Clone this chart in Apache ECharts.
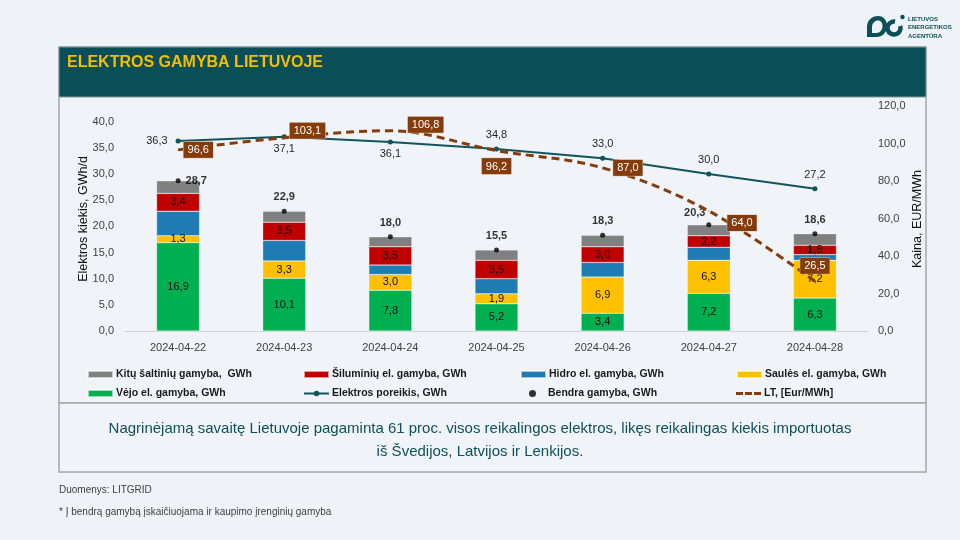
<!DOCTYPE html>
<html>
<head>
<meta charset="utf-8">
<script src="https://cdn.jsdelivr.net/npm/echarts@6/dist/echarts.min.js"></script>
<style>
html,body{margin:0;padding:0;background:#eff3f7;}
#c{width:960px;height:540px;}
</style>
</head>
<body>
<div id="c"></div>
<script>
// ---- Data ----
var categories = ['2024-04-22','2024-04-23','2024-04-24','2024-04-25','2024-04-26','2024-04-27','2024-04-28'];
var vejo      = [16.9, 10.1, 7.8, 5.2, 3.4, 7.2, 6.3];
var saules    = [1.3, 3.3, 3.0, 1.9, 6.9, 6.3, 7.2];
var hidro     = [4.7, 3.9, 1.8, 2.9, 2.8, 2.5, 1.1];
var siluminiu = [3.4, 3.5, 3.5, 3.5, 3.0, 2.2, 1.8];
var kitu      = [2.4, 2.1, 1.9, 2.0, 2.2, 2.1, 2.2];
var bendra    = [28.7, 22.9, 18.0, 15.5, 18.3, 20.3, 18.6];
var poreikis  = [36.3, 37.1, 36.1, 34.8, 33.0, 30.0, 27.2];
var kaina     = [96.6, 103.1, 106.8, 96.2, 87.0, 64.0, 26.5];
var leftTicks = [0, 5, 10, 15, 20, 25, 30, 35, 40];
var rightTicks = [0, 20, 40, 60, 80, 100, 120];
var leftAxisName = 'Elektros kiekis, GWh/d';
var rightAxisName = 'Kaina, EUR/MWh';

var names = {
  kitu: 'Kitų šaltinių gamyba,  GWh',
  sil: 'Šiluminių el. gamyba, GWh',
  hidro: 'Hidro el. gamyba, GWh',
  saules: 'Saulės el. gamyba, GWh',
  vejo: 'Vėjo el. gamyba, GWh',
  poreikis: 'Elektros poreikis, GWh',
  bendra: 'Bendra gamyba, GWh',
  lt: 'LT, [Eur/MWh]'
};

function fmt(v){ return (typeof v === 'object' ? v.value : v).toFixed(1).replace('.', ','); }

var FONT = 'Liberation Sans';
var TEAL = '#0b4f57';

// logo shapes
try {
  echarts.graphic.registerShape('logoD', echarts.graphic.extendPath(
    'M867 37 L867 27 C867 20 872 16 878 16 C884 16 887 21 887 26 C887 32 883 37 876 37 Z', {}));
  echarts.graphic.registerShape('logoDHole', echarts.graphic.extendPath(
    'M872 33 L872 27 C872 23 875 20.5 878 20.5 C881 20.5 882.5 23 882.5 26 C882.5 30 880 33 876.5 33 Z', {}));
} catch(e) {}

// label placements (style only)
var poreikisPos = [
  {position:'left', distance:8},
  {position:'bottom', distance:4},
  {position:'bottom', distance:4},
  {position:'top', distance:6},
  {position:'top', distance:6},
  {position:'top', distance:6},
  {position:'top', distance:6}
];
var bendraPos = [
  {position:'right', distance:5},
  {position:'top', distance:6},
  {position:'top', distance:6},
  {position:'top', distance:6},
  {position:'top', distance:6},
  {position:'top', distance:4, offset:[-14,0]},
  {position:'top', distance:6}
];
var kainaPos = [
  {position:'right', distance:5},
  {position:'right', distance:5, offset:[0,-7]},
  {position:'right', distance:5, offset:[12,-6]},
  {position:'bottom', distance:7},
  {position:'right', distance:10},
  {position:'right', distance:18, offset:[0,12]},
  {position:'top', distance:7}
];

function withPos(arr, pos){
  return arr.map(function(v, i){ return {value: v, label: pos[i]}; });
}

var chart = echarts.init(document.getElementById('c'), null, {renderer:'canvas'});

function barSeries(name, data, color, showLabel){
  return {
    name: name, type: 'bar', stack: 'g', data: data, barWidth: 43,
    yAxisIndex: 0,
    itemStyle: {color: color, borderColor: 'rgba(255,255,255,0.6)', borderWidth: 0.5},
    label: {show: showLabel, position: 'inside', formatter: function(p){ return fmt(p.value); },
            color: '#111', fontSize: 11, fontFamily: FONT},
    emphasis: {disabled: true}
  };
}

function legendAt(name, x, y, extra){
  var l = {
    data: [name], left: x, top: y, padding: 0, itemWidth: 25, itemHeight: 7, itemGap: 0,
    icon: 'rect', selectedMode: false,
    textStyle: {fontSize: 10.5, fontWeight: 'bold', color: '#1a1a1a', fontFamily: FONT, padding: [0,0,0,-2]}
  };
  for (var k in extra) l[k] = extra[k];
  if (l.icon === null) delete l.icon;
  return l;
}

var graphics = [
  // chart panel
  {type:'rect', z:-5, shape:{x:59, y:47, width:867, height:356}, style:{fill:'#f0f4f8', stroke:'#a6a6a6', lineWidth:1.5}},
  // title bar
  {type:'rect', z:-4, shape:{x:59, y:47, width:867, height:50}, style:{fill:'#0a4f57', stroke:'#8a9a9e', lineWidth:1}},
  {type:'text', z:10, x:67, y:63, style:{text:'ELEKTROS GAMYBA LIETUVOJE', fill:'#f5bd00', font:'bold 16px "Liberation Sans"', verticalAlign:'middle'}},
  // axis names
  {type:'text', z:10, x:84, y:219, rotation:Math.PI/2, style:{text:leftAxisName, fill:'#111', font:'12.5px "Liberation Sans"', align:'center', verticalAlign:'middle'}},
  {type:'text', z:10, x:918, y:219, rotation:Math.PI/2, style:{text:rightAxisName, fill:'#111', font:'12.5px "Liberation Sans"', align:'center', verticalAlign:'middle'}},
  // text box
  {type:'rect', z:-5, shape:{x:59, y:403, width:867, height:69}, style:{fill:'#f0f4f8', stroke:'#a6a6a6', lineWidth:1.5}},
  {type:'text', z:10, x:480, y:429, style:{text:'Nagrinėjamą savaitę Lietuvoje pagaminta 61 proc. visos reikalingos elektros, likęs reikalingas kiekis importuotas', fill:'#0f4f5a', font:'15px "Liberation Sans"', align:'center', verticalAlign:'middle'}},
  {type:'text', z:10, x:480, y:452, style:{text:'iš Švedijos, Latvijos ir Lenkijos.', fill:'#0f4f5a', font:'15px "Liberation Sans"', align:'center', verticalAlign:'middle'}},
  // footnotes
  {type:'text', z:10, x:59, y:490, style:{text:'Duomenys: LITGRID', fill:'#404040', font:'10px "Liberation Sans"', verticalAlign:'middle'}},
  {type:'text', z:10, x:59, y:512, style:{text:'* Į bendrą gamybą įskaičiuojama ir kaupimo įrenginių gamyba', fill:'#404040', font:'10px "Liberation Sans"', verticalAlign:'middle'}},
  // logo
  {type:'arc', z:10, shape:{cx:894, cy:28, r:6.5, startAngle:-0.1*Math.PI, endAngle:1.55*Math.PI, clockwise:true}, style:{stroke:TEAL, lineWidth:4.5, fill:null}},
  {type:'circle', z:10, shape:{cx:902.5, cy:17, r:2.2}, style:{fill:TEAL}},
  {type:'text', z:10, x:908, y:15, style:{text:'LIETUVOS\nENERGETIKOS\nAGENTŪRA', fill:TEAL, font:'bold 6px "Liberation Sans"', lineHeight:8.5}}
];
try {
  if (echarts.graphic.getShapeClass && echarts.graphic.getShapeClass('logoD')) {
    graphics.push({type:'logoD', z:10, style:{fill:TEAL}});
    graphics.push({type:'logoDHole', z:11, style:{fill:'#eff3f7'}});
  }
} catch(e) {}

var option = {
  backgroundColor: '#eff3f7',
  animation: false,
  textStyle: {fontFamily: FONT},
  graphic: graphics,
  grid: {left:125, right:92, top:106, bottom:209, containLabel:false},
  xAxis: {
    type: 'category', data: categories,
    axisLine: {lineStyle: {color: '#d0d4d8'}},
    axisTick: {show: false},
    axisLabel: {color: '#404040', fontSize: 11, margin: 11, fontFamily: FONT}
  },
  yAxis: [
    {
      type: 'value', min: 0, max: 43, interval: 5, position: 'left',
      axisLine: {show: false}, axisTick: {show: false}, splitLine: {show: false},
      axisLabel: {color: '#404040', fontSize: 11, margin: 11, fontFamily: FONT,
        formatter: function(v){ return leftTicks.indexOf(v) >= 0 ? fmt(v) : ''; }}
    },
    {
      type: 'value', min: 0, max: 120, interval: 20, position: 'right',
      axisLine: {show: false}, axisTick: {show: false}, splitLine: {show: false},
      axisLabel: {color: '#404040', fontSize: 11, margin: 10, fontFamily: FONT,
        formatter: function(v){ return rightTicks.indexOf(v) >= 0 ? fmt(v) : ''; }}
    }
  ],
  legend: [
    legendAt(names.kitu, 87, 369),
    legendAt(names.sil, 303, 369),
    legendAt(names.hidro, 520, 369),
    legendAt(names.saules, 736, 369),
    legendAt(names.vejo, 87, 388),
    legendAt(names.poreikis, 303, 388, {icon: null}),
    legendAt(names.bendra, 529, 388, {icon: 'circle'}),
    legendAt(names.lt, 736, 388, {icon: 'path://M0,0 h7 v3 h-7 z M9,0 h7 v3 h-7 z M18,0 h7 v3 h-7 z', itemHeight: 3})
  ],
  series: [
    barSeries(names.vejo, vejo, '#00b050', true),
    barSeries(names.saules, saules, '#ffc000', true),
    barSeries(names.hidro, hidro, '#1f7bb4', false),
    barSeries(names.sil, siluminiu, '#c00000', true),
    barSeries(names.kitu, kitu, '#808080', false),
    {
      name: names.poreikis, type: 'line', yAxisIndex: 0, data: withPos(poreikis, poreikisPos),
      symbol: 'circle', symbolSize: 5, z: 5,
      lineStyle: {color: '#11545c', width: 2}, itemStyle: {color: '#11545c'},
      label: {show: true, color: '#262626', fontSize: 11, fontFamily: FONT, formatter: function(p){ return fmt(p.value); }},
      emphasis: {disabled: true}
    },
    {
      name: names.bendra, type: 'scatter', yAxisIndex: 0, data: withPos(bendra, bendraPos),
      symbol: 'circle', symbolSize: 5, z: 6,
      itemStyle: {color: '#000'},
      label: {show: true, color: '#000', fontSize: 11, fontWeight: 'bold', fontFamily: FONT, formatter: function(p){ return fmt(p.value); }},
      emphasis: {disabled: true}
    },
    {
      name: names.lt, type: 'line', yAxisIndex: 1, data: withPos(kaina, kainaPos),
      smooth: 0.35, symbol: 'circle', symbolSize: 1, z: 7,
      lineStyle: {color: '#843c0c', width: 3, type: [8, 5]}, itemStyle: {color: '#843c0c'},
      label: {show: true, color: '#fff', backgroundColor: '#843c0c', borderColor: '#d9c2b3', borderWidth: 0.5,
              padding: [3, 4, 2, 4], fontSize: 11, fontFamily: FONT, formatter: function(p){ return fmt(p.value); }},
      emphasis: {disabled: true}
    }
  ]
};
chart.setOption(option);
</script>
</body>
</html>
